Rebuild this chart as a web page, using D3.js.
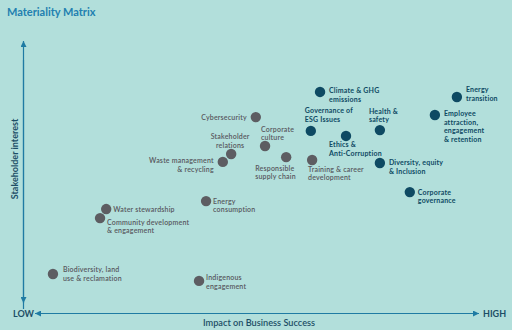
<!DOCTYPE html>
<html><head><meta charset="utf-8">
<script src="https://cdn.jsdelivr.net/npm/d3@7"></script>
<style>
html,body{margin:0;padding:0;background:#b2dfdb;}
svg{display:block;}
</style></head>
<body>
<script>
// ---- data ----
const topics = [
  "Cybersecurity","Stakeholder\nrelations","Waste management\n& recycling","Corporate\nculture",
  "Responsible\nsupply chain","Training & career\ndevelopment","Energy\nconsumption","Water stewardship",
  "Community development\n& engagement","Biodiversity, land\nuse & reclamation","Indigenous\nengagement",
  "Governance of\nESG Issues","Climate & GHG\nemissions","Ethics &\nAnti-Corruption","Health &\nsafety",
  "Diversity, equity\n& Inclusion","Corporate\ngovernance","Employee\nattraction,\nengagement\n& retention","Energy\ntransition"
];
const impact = [49.5,43.9,42.0,51.6,56.4,62.3,38.2,15.5,14.1,3.4,36.6,62.0,64.1,70.0,77.7,77.7,84.5,90.2,95.2];
const interest = [70.9,57.0,54.0,60.0,55.8,54.7,39.2,36.2,32.8,11.7,9.1,65.7,80.4,63.8,66.0,53.6,42.6,71.7,78.5];
const group = ["other","other","other","other","other","other","other","other","other","other","other",
  "key","key","key","key","key","key","key","key"];
const axisLabels = {x:"Impact on Business Success", y:"Stakeholder interest", low:"LOW", high:"HIGH"};
const title = "Materiality Matrix";

// ---- label layout (anchor, offsets from dot in px) ----
const labelLayout = [
  ["end",-9,0],["middle",-1,-17],["end",-9,-1],["start",-4,-17],["start",-31,11],["start",-4,9],
  ["start",7,0],["start",7,0],["start",7,4],["start",10,-4],["start",7,-3],
  ["start",-6,-20],["start",9,-1],["start",-17,9],["start",-11,-19],["start",9,0],["start",8,0],["start",9,-1],["start",9,-7]
];

const W=512,H=330;
const svg=d3.select("body").append("svg").attr("width",W).attr("height",H);
svg.append("rect").attr("width",W).attr("height",H).attr("fill","#b2dfdb");

const x=d3.scaleLinear().domain([0,100]).range([38,478]);
const y=d3.scaleLinear().domain([0,100]).range([305,40]);
const axisCol="#1f7ba3";
const font="Lato, 'Open Sans', sans-serif";

svg.append("text").attr("x",7).attr("y",16).text(title)
  .attr("font-family",font).attr("font-size",11).attr("font-weight",700).attr("fill","#2280b0");

const defs=svg.append("defs");
defs.append("marker").attr("id","arr").attr("viewBox","0 0 10 10").attr("refX",10).attr("refY",5)
  .attr("markerWidth",6).attr("markerHeight",6).attr("markerUnits","userSpaceOnUse").attr("orient","auto")
  .append("path").attr("d","M0,0L10,5L0,10Z").attr("fill",axisCol);

// vertical axis (double-headed)
svg.append("line").attr("x1",23.5).attr("x2",23.5).attr("y1",y(0)+4).attr("y2",41)
  .attr("stroke",axisCol).attr("stroke-width",1.2).attr("marker-end","url(#arr)");
svg.append("line").attr("x1",23.5).attr("x2",23.5).attr("y1",60).attr("y2",303)
  .attr("stroke",axisCol).attr("stroke-width",1.2).attr("marker-end","url(#arr)");
// horizontal axis
svg.append("line").attr("x1",x(100)).attr("x2",35).attr("y1",313.5).attr("y2",313.5)
  .attr("stroke",axisCol).attr("stroke-width",1.2).attr("marker-end","url(#arr)");
svg.append("line").attr("x1",60).attr("x2",479).attr("y1",313.5).attr("y2",313.5)
  .attr("stroke",axisCol).attr("stroke-width",1.2).attr("marker-end","url(#arr)");

svg.append("text").attr("x",13).attr("y",317).text(axisLabels.low)
  .attr("font-family",font).attr("font-size",9).attr("font-weight",700).attr("fill","#1d4e66");
svg.append("text").attr("x",483).attr("y",317).text(axisLabels.high)
  .attr("font-family",font).attr("font-size",9).attr("font-weight",700).attr("fill","#1d4e66");
svg.append("text").attr("x",259).attr("y",325.5).attr("text-anchor","middle").text(axisLabels.x)
  .attr("font-family",font).attr("font-size",9.2).attr("fill","#1d4e66").attr("font-weight",600);
svg.append("text").attr("transform","translate(18,159) rotate(-90)").attr("text-anchor","middle").text(axisLabels.y)
  .attr("font-family",font).attr("font-size",9).attr("fill","#1d4e66").attr("font-weight",700);

const data=topics.map((t,i)=>({t,x:impact[i],y:interest[i],g:group[i],l:labelLayout[i]}));
const colDot={other:"#5d5d62",key:"#0e4a63"};
const colTxt={other:"#58585e",key:"#0e4a63"};

const g=svg.append("g");
g.selectAll("circle").data(data).join("circle")
  .attr("cx",d=>x(d.x)).attr("cy",d=>y(d.y)).attr("r",5.2)
  .attr("fill",d=>colDot[d.g]);

const lh=8.4;
const lab=g.selectAll("text.lab").data(data).join("text").attr("class","lab")
  .attr("font-family",font).attr("font-size",7)
  .attr("letter-spacing",0.2)
  .attr("font-weight",d=>d.g==="key"?700:600)
  .attr("fill",d=>colTxt[d.g])
  .attr("text-anchor",d=>d.l[0]);
lab.each(function(d){
  const lines=d.t.split("\n");
  const el=d3.select(this);
  lines.forEach((s,k)=>{
    el.append("tspan").attr("x",x(d.x)+d.l[1]).attr("y",y(d.y)+d.l[2]+2.5+k*lh).text(s);
  });
});
</script>
</body></html>
